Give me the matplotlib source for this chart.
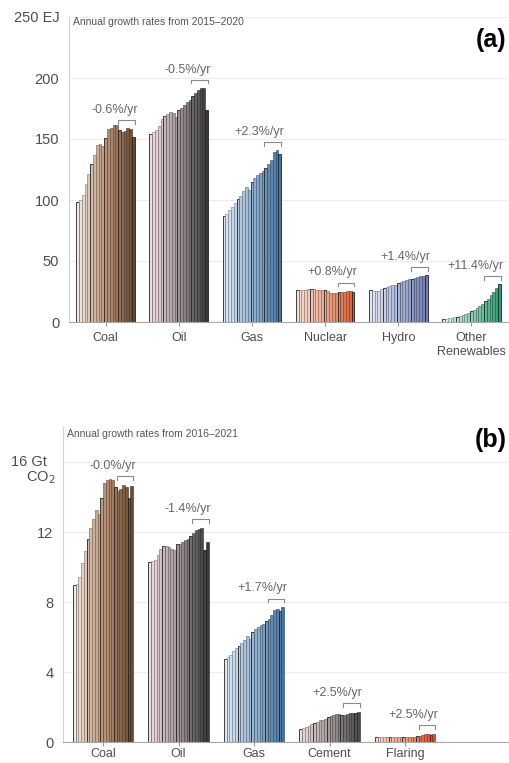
import numpy as np
import matplotlib
matplotlib.use("Agg")
import matplotlib.pyplot as plt
from matplotlib.colors import LinearSegmentedColormap

plt.rcParams['font.family'] = ['Liberation Sans', 'DejaVu Sans']

# --- primary energy by source, EJ, 2000-2020 ---
energy_years = list(range(2000, 2021))
energy_labels = ['Coal', 'Oil', 'Gas', 'Nuclear', 'Hydro', 'Other\nRenewables']
energy_coal = [98.4, 100.3, 104.4, 113.1, 121.2, 129.8, 137.0, 144.7, 146.0, 144.6, 151.2,
               158.2, 158.9, 161.7, 161.5, 157.4, 155.7, 156.3, 158.7, 157.9, 151.4]
energy_oil = [154.2, 155.4, 157.3, 160.3, 166.5, 168.5, 170.6, 172.3, 171.1, 168.4, 173.8,
              175.6, 177.9, 180.0, 181.6, 185.1, 187.6, 190.0, 191.6, 192.0, 173.7]
energy_gas = [86.9, 88.5, 91.4, 94.2, 97.8, 100.6, 103.2, 107.2, 110.3, 107.9, 114.9,
              117.7, 120.8, 122.5, 123.9, 126.0, 129.3, 132.7, 139.4, 141.0, 137.6]
energy_nuclear = [25.9, 26.4, 26.6, 26.2, 27.0, 27.0, 27.2, 26.6, 26.4, 26.1, 26.6,
                  25.6, 23.6, 23.8, 24.1, 24.4, 24.7, 24.8, 25.2, 25.8, 24.4]
energy_hydro = [26.0, 25.2, 25.6, 25.7, 27.0, 28.0, 28.9, 29.3, 30.4, 30.5, 32.0,
                32.4, 33.4, 34.5, 35.3, 35.0, 36.2, 36.6, 37.6, 37.8, 38.2]
energy_other = [2.6, 2.8, 3.1, 3.4, 3.8, 4.3, 4.9, 5.6, 6.5, 7.4, 8.7,
                10.1, 11.6, 13.2, 14.9, 16.9, 19.2, 21.9, 24.8, 27.9, 31.1]
energy_rates = ['-0.6%/yr', '-0.5%/yr', '+2.3%/yr', '+0.8%/yr', '+1.4%/yr', '+11.4%/yr']

# --- fossil CO2 emissions by source, Gt CO2, 2000-2021 ---
co2_years = list(range(2000, 2022))
co2_labels = ['Coal', 'Oil', 'Gas', 'Cement', 'Flaring']
co2_coal = [8.95, 9.05, 9.45, 10.25, 10.9, 11.6, 12.25, 12.75, 13.25, 13.05, 13.95,
            14.8, 14.95, 15.05, 15.0, 14.6, 14.35, 14.45, 14.7, 14.55, 13.95, 14.65]
co2_oil = [10.3, 10.35, 10.4, 10.7, 11.05, 11.2, 11.2, 11.15, 11.05, 10.95, 11.3,
           11.3, 11.45, 11.55, 11.6, 11.8, 11.95, 12.1, 12.2, 12.25, 10.95, 11.45]
co2_gas = [4.75, 4.85, 5.0, 5.2, 5.35, 5.5, 5.65, 5.85, 6.05, 5.9, 6.3,
           6.45, 6.6, 6.7, 6.75, 6.9, 7.05, 7.25, 7.55, 7.6, 7.5, 7.7]
co2_cement = [0.76, 0.80, 0.85, 0.93, 1.01, 1.08, 1.17, 1.23, 1.25, 1.30, 1.41,
              1.50, 1.53, 1.58, 1.60, 1.56, 1.57, 1.60, 1.63, 1.66, 1.68, 1.73]
co2_flaring = [0.28, 0.28, 0.28, 0.29, 0.29, 0.29, 0.29, 0.28, 0.28, 0.27, 0.29,
               0.30, 0.31, 0.31, 0.31, 0.33, 0.36, 0.40, 0.43, 0.44, 0.42, 0.45]
co2_rates = ['-0.0%/yr', '-1.4%/yr', '+1.7%/yr', '+2.5%/yr', '+2.5%/yr']


def ramp(*cols):
    return LinearSegmentedColormap.from_list('r', list(cols))


COAL = ramp('#f3e8df', '#bc9476', '#6b4a32')
OIL = ramp('#f0dde0', '#9e9194', '#3a3a3a')
GAS = ramp('#dde9f4', '#92b2d1', '#4674a2')
NUC = ramp('#f6ded3', '#eca98d', '#de5e32')
HYD = ramp('#e4e7f3', '#aab5d7', '#6f80b4')
REN = ramp('#ddf2e9', '#8ed0b4', '#2f9e75')
CEM = ramp('#efdada', '#a39898', '#4a4a4a')
FLA = ramp('#f8d8cd', '#ef9c82', '#e04a26')

GREY = '#4d4d4d'


def panel(ax, groups, years, rates, labels, cmaps, pad, xpad):
    n = len(years)
    w = 0.8 / n
    for g, (vals, rate, cm) in enumerate(zip(groups, rates, cmaps)):
        x = g - 0.4 + w * (np.arange(n) + 0.5)
        cols = cm(np.linspace(0, 1, n))
        edges = [tuple(c[:3] * 0.55) + (1.0,) for c in cols]
        lws = [0.4] * n
        for i, yr in enumerate(years):
            if yr % 5 == 0:
                edges[i] = '#222222'
                lws[i] = 0.6
        ax.bar(x, vals, width=w, color=cols, edgecolor=edges, linewidth=lws, zorder=2)

        # bracket over the last six years plus the growth rate
        top = max(vals[-6:]) + pad
        drop = pad * 0.45
        x0, x1 = x[-6] - w / 2, x[-1] + w / 2
        ax.plot([x0, x0, x1, x1], [top - drop, top, top, top - drop],
                color='#8a8a8a', lw=0.8, zorder=3)
        ax.annotate(rate, (x1, top), xytext=(2, 3), textcoords='offset points',
                    ha='right', va='bottom', fontsize=9, color='#666666')

    ax.set_xticks(range(len(labels)))
    ax.set_xticklabels(labels, fontsize=9, color=GREY, linespacing=1.25)
    ax.tick_params(axis='x', length=3, color='#999999', pad=xpad)
    ax.tick_params(axis='y', length=0, pad=7, labelsize=10.5, labelcolor=GREY)
    ax.yaxis.grid(True, color='#ededed', lw=0.8)
    ax.set_axisbelow(True)
    for s in ('top', 'right'):
        ax.spines[s].set_visible(False)
    ax.spines['left'].set_color('#d3d3d3')
    ax.spines['left'].set_linewidth(0.8)
    ax.spines['bottom'].set_color('#a8a8a8')
    ax.spines['bottom'].set_linewidth(0.8)


fig = plt.figure(figsize=(5.09, 7.63), dpi=100)

# (a) energy
ax1 = fig.add_axes([69 / 509, 1 - 322 / 763, 439 / 509, 305 / 763])
panel(ax1, [energy_coal, energy_oil, energy_gas, energy_nuclear, energy_hydro, energy_other],
      energy_years, energy_rates, energy_labels, [COAL, OIL, GAS, NUC, HYD, REN],
      pad=6.5, xpad=4)
ax1.set_xlim(-0.5, 5.5)
ax1.set_ylim(0, 250)
ax1.set_yticks([0, 50, 100, 150, 200, 250])
ax1.set_yticklabels(['0', '50', '100', '150', '200', '250 EJ'])
ax1.text(0.01, 0.984, 'Annual growth rates from 2015\u20132020', transform=ax1.transAxes,
         fontsize=7.5, color='#555555', ha='left', va='center')

# (b) CO2 emissions
ax2 = fig.add_axes([63 / 509, 21 / 763, 453 / 509, 315 / 763])
panel(ax2, [co2_coal, co2_oil, co2_gas, co2_cement, co2_flaring],
      co2_years, co2_rates, co2_labels, [COAL, OIL, GAS, CEM, FLA],
      pad=0.5, xpad=1.5)
ax2.set_xlim(-0.53, 5.47)
ax2.set_ylim(0, 18)
ax2.set_yticks([0, 4, 8, 12, 16])
ax2.set_yticklabels(['0', '4', '8', '12', ''])
ax2.annotate('16 Gt', (0, 16), xycoords=('axes fraction', 'data'), xytext=(-16, 0),
             textcoords='offset pixels', ha='right', va='center', fontsize=10.5, color=GREY)
ax2.annotate('CO$_2$', (0, 16), xycoords=('axes fraction', 'data'), xytext=(-8, -16),
             textcoords='offset pixels', ha='right', va='center', fontsize=10.5, color=GREY)
ax2.text(0.009, 0.978, 'Annual growth rates from 2016\u20132021', transform=ax2.transAxes,
         fontsize=7.5, color='#555555', ha='left', va='center')

fig.text(0.995, 1 - 40 / 763, '(a)', ha='right', va='center', fontsize=18, weight='bold')
fig.text(0.995, 1 - 440 / 763, '(b)', ha='right', va='center', fontsize=18, weight='bold')

fig.savefig('out.png', dpi=100)
